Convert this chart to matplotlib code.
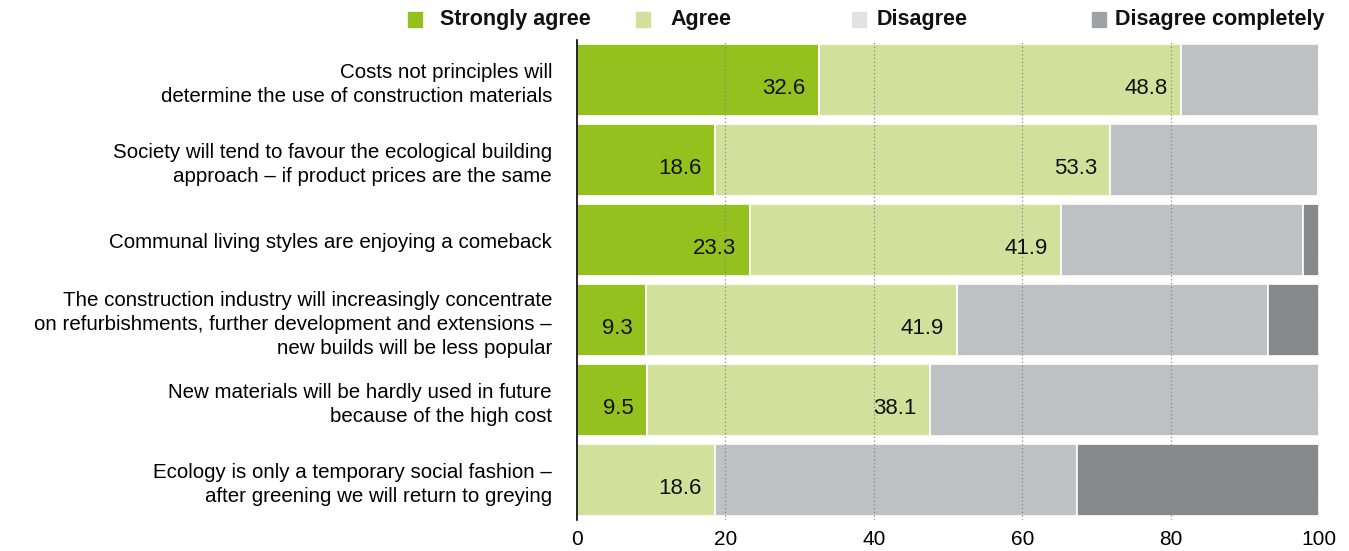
import numpy as np
import matplotlib
matplotlib.use("Agg")
from matplotlib import pyplot as plt
from matplotlib.patches import Rectangle

plt.rcParams["font.family"] = ["Liberation Sans", "DejaVu Sans"]

statements = [
    "Costs not principles will\ndetermine the use of construction materials",
    "Society will tend to favour the ecological building\napproach \u2013 if product prices are the same",
    "Communal living styles are enjoying a comeback",
    "The construction industry will increasingly concentrate\non refurbishments, further development and extensions \u2013\nnew builds will be less popular",
    "New materials will be hardly used in future\nbecause of the high cost",
    "Ecology is only a temporary social fashion \u2013\nafter greening we will return to greying",
]
strongly_agree = [32.6, 18.6, 23.3, 9.3, 9.5, 0.0]
agree = [48.8, 53.3, 41.9, 41.9, 38.1, 18.6]
disagree = [18.6, 27.9, 32.6, 41.9, 52.4, 48.8]
disagree_completely = [0.0, 0.0, 2.2, 6.9, 0.0, 32.6]

series_names = ["Strongly agree", "Agree", "Disagree", "Disagree completely"]
bar_colors = ["#95c11f", "#d1e19c", "#c0c1c4", "#87888b"]
legend_colors = ["#95c11f", "#d1e19c", "#e1e1e3", "#a0a1a4"]

fig = plt.figure(figsize=(13.49, 5.51), dpi=100)
ax = fig.add_axes([577 / 1349, 31 / 551, 742 / 1349, 480 / 551])

y = np.arange(len(statements))
left = np.zeros(len(statements))
for vals, col in zip([strongly_agree, agree, disagree, disagree_completely], bar_colors):
    vals = np.array(vals)
    ax.barh(y, vals, left=left, height=0.9, color=col, edgecolor="white",
            linewidth=1.2, zorder=1)
    left += vals

# value labels for the two agree series
left = np.zeros(len(statements))
for vals in [strongly_agree, agree]:
    for i, v in enumerate(vals):
        if v > 0:
            ax.text(left[i] + v - 1.8, i + 0.1, f"{v:.1f}", ha="right", va="center",
                    fontsize=16, color="#111111", zorder=3)
    left += np.array(vals)

ax.set_xlim(0, 100)
ax.set_ylim(len(statements) - 0.5, -0.5)
ax.set_xticks([0, 20, 40, 60, 80, 100])
ax.set_yticks(y)
ax.set_yticklabels(statements, fontsize=14.8, linespacing=1.33)
ax.tick_params(axis="both", length=0)
ax.tick_params(axis="y", pad=18)
ax.tick_params(axis="x", pad=7)
ax.set_xticklabels(["0", "20", "40", "60", "80", "100"], fontsize=15)
for x in [20, 40, 60, 80, 100]:
    ax.axvline(x, color="#888888", linestyle=(0, (1, 2)), linewidth=0.9, zorder=2)
for s in ["top", "right", "bottom"]:
    ax.spines[s].set_visible(False)
ax.spines["left"].set_linewidth(1.2)
ax.spines["left"].set_zorder(4)

# legend across the top
leg_x = [408, 636, 852, 1092]
txt_x = [440, 670, 877, 1115]
for name, col, sx, tx in zip(series_names, legend_colors, leg_x, txt_x):
    fig.patches.append(Rectangle((sx / 1349, 1 - 27 / 551), 14 / 1349, 15 / 551,
                                 transform=fig.transFigure, color=col))
    fig.text(tx / 1349, 1 - 19 / 551, name, fontsize=15.5, fontweight="bold",
             va="center", ha="left", color="#111111")

fig.savefig("out.png", dpi=100)
